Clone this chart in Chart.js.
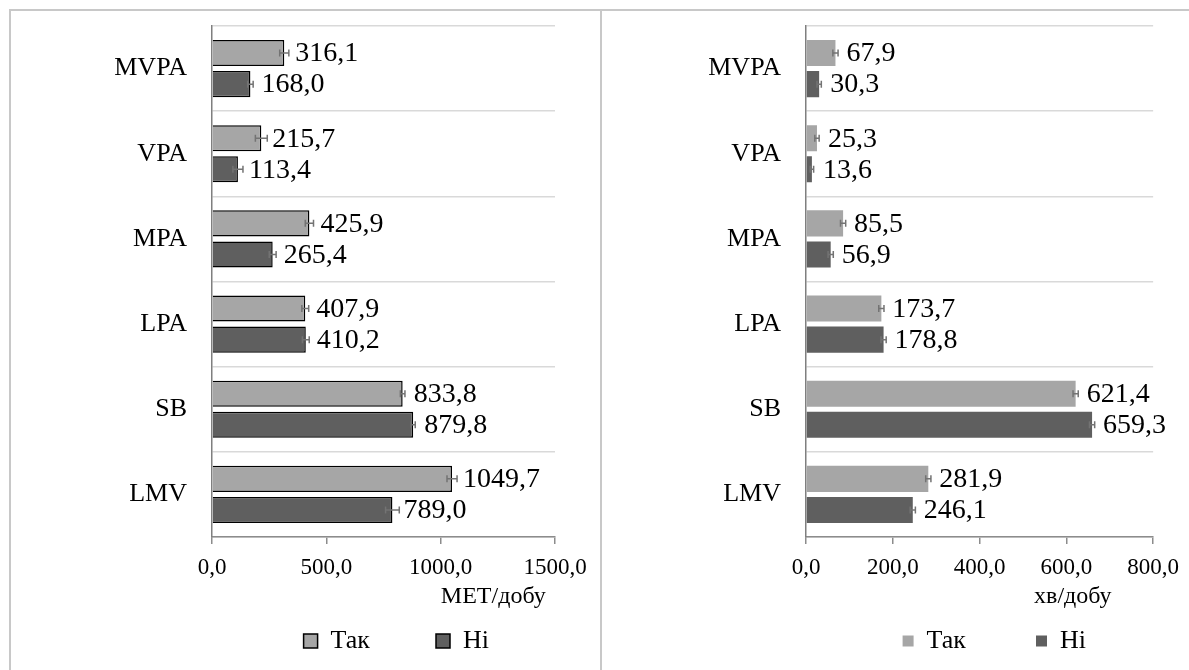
<!DOCTYPE html>
<html>
<head>
<meta charset="utf-8">
<script src="https://cdn.jsdelivr.net/npm/chart.js@4"></script>
<style>
  body { margin: 0; background: #fff; width: 1189px; height: 670px; overflow: hidden; position: relative; }
  .frame { position: absolute; left: 9px; top: 9px; width: 1200px; height: 700px; border: 2px solid #c8c8c8; box-sizing: border-box; }
  .divider { position: absolute; left: 600px; top: 9px; width: 2px; height: 700px; background: #c8c8c8; }
  #metChart { position: absolute; left: 11px; top: 11px; }
  #minChart { position: absolute; left: 603px; top: 11px; }
</style>
</head>
<body>
<div class="frame"></div>
<div class="divider"></div>
<canvas id="metChart" width="589" height="659"></canvas>
<canvas id="minChart" width="586" height="659"></canvas>
<script>
const categories = ['MVPA', 'VPA', 'MPA', 'LPA', 'SB', 'LMV'];
const seriesNames = ['Так', 'Ні'];

// MET/добу
const metYes = [316.1, 215.7, 425.9, 407.9, 833.8, 1049.7];
const metNo = [168.0, 113.4, 265.4, 410.2, 879.8, 789.0];
const metYesErr = [20, 26, 18, 15, 10, 22];
const metNoErr = [12, 22, 15, 15, 9, 30];
const metTicks = [0, 500, 1000, 1500];

// хв/добу
const minYes = [67.9, 25.3, 85.5, 173.7, 621.4, 281.9];
const minNo = [30.3, 13.6, 56.9, 178.8, 659.3, 246.1];
const minYesErr = [6, 5, 6, 6, 6, 6];
const minNoErr = [5, 4, 6, 6, 6, 6];
const minTicks = [0, 200, 400, 600, 800];

const lightGray = '#a6a6a6';
const darkGray = '#5f5f5f';
const serif = '"Liberation Serif", "Times New Roman", serif';
Chart.defaults.font.family = serif;

const fmt = v => v.toFixed(1).replace('.', ',');

// error bars, value labels and the unit text under the axis
const extrasPlugin = {
  id: 'extras',
  afterLayout(chart) {
    // let the tick labels run below the squeezed x axis box
    chart.scales.x.bottom = chart.height;
  },
  afterDatasetsDraw(chart, args, opts) {
    const ctx = chart.ctx;
    const xs = chart.scales.x;
    chart.data.datasets.forEach((ds, i) => {
      const meta = chart.getDatasetMeta(i);
      meta.data.forEach((bar, j) => {
        const v = ds.data[j];
        const e = ds.errors[j];
        const x0 = xs.getPixelForValue(v - e);
        const x1 = xs.getPixelForValue(v + e);
        const y = bar.y;
        ctx.save();
        ctx.strokeStyle = '#737373';
        ctx.lineWidth = 1.5;
        ctx.beginPath();
        ctx.moveTo(x0, y); ctx.lineTo(x1, y);
        ctx.moveTo(x0, y - 3.5); ctx.lineTo(x0, y + 3.5);
        ctx.moveTo(x1, y - 3.5); ctx.lineTo(x1, y + 3.5);
        ctx.stroke();
        ctx.fillStyle = '#000';
        ctx.font = '28px ' + serif;
        ctx.textAlign = 'left';
        ctx.textBaseline = 'middle';
        ctx.fillText(fmt(v), bar.x + 11, y + 1);
        ctx.restore();
      });
    });
    ctx.save();
    ctx.fillStyle = '#000';
    ctx.font = '24px ' + serif;
    ctx.textAlign = 'center';
    ctx.textBaseline = 'middle';
    ctx.fillText(opts.unit, xs.getPixelForValue(opts.unitAt), opts.unitY);
    ctx.restore();
  }
};

function makeChart(id, yes, yesErr, no, noErr, ticks, bordered, axisWidth, padRight, legendGap, unit, unitAt) {
  const maxV = ticks[ticks.length - 1];
  const below = 133 - 6 - (26 + legendGap + 10);
  return new Chart(document.getElementById(id), {
    type: 'bar',
    data: {
      labels: categories,
      datasets: [{
        label: seriesNames[0],
        data: yes,
        errors: yesErr,
        backgroundColor: lightGray,
        borderColor: '#000',
        borderWidth: bordered ? 1.5 : 0
      }, {
        label: seriesNames[1],
        data: no,
        errors: noErr,
        backgroundColor: darkGray,
        borderColor: '#000',
        borderWidth: bordered ? 1.5 : 0
      }]
    },
    options: {
      indexAxis: 'y',
      responsive: false,
      animation: false,
      categoryPercentage: 0.73,
      barPercentage: 0.84,
      layout: { padding: { left: 0, right: padRight, top: 15, bottom: 6 } },
      plugins: {
        legend: {
          position: 'bottom',
          align: 'end',
          labels: {
            color: '#000',
            font: { family: serif, size: 26 },
            boxWidth: bordered ? 14 : 11,
            boxHeight: bordered ? 14 : 11,
            padding: legendGap
          }
        },
        tooltip: { enabled: false },
        extras: { unit: unit, unitAt: unitAt, unitY: 586 }
      },
      scales: {
        x: {
          min: 0,
          max: maxV,
          afterBuildTicks: s => { s.ticks = ticks.map(v => ({ value: v })); },
          afterFit: s => { s.height = below; },
          ticks: {
            color: '#000',
            font: { family: serif, size: 23 },
            padding: 10,
            maxRotation: 0,
            callback: v => fmt(v)
          },
          grid: { drawOnChartArea: false, drawTicks: true, tickLength: 7, color: '#8c8c8c', lineWidth: 1.5 },
          border: { color: '#8c8c8c', width: 1.5 }
        },
        y: {
          afterFit: s => { s.width = axisWidth; s.paddingTop = 0; s.paddingBottom = 0; },
          ticks: {
            color: '#000',
            font: { family: serif, size: 26 },
            padding: 25
          },
          grid: { drawTicks: false, offset: true, color: '#d9d9d9', lineWidth: 1.5 },
          border: { color: '#7f7f7f', width: 1.5 }
        }
      }
    },
    plugins: [extrasPlugin]
  });
}

makeChart('metChart', metYes, metYesErr, metNo, metNoErr, metTicks, true, 201, 45, 66, 'МЕТ/добу', 1230);
makeChart('minChart', minYes, minYesErr, minNo, minNoErr, minTicks, false, 203, 33, 70, 'хв/добу', 615);
</script>
</body>
</html>
